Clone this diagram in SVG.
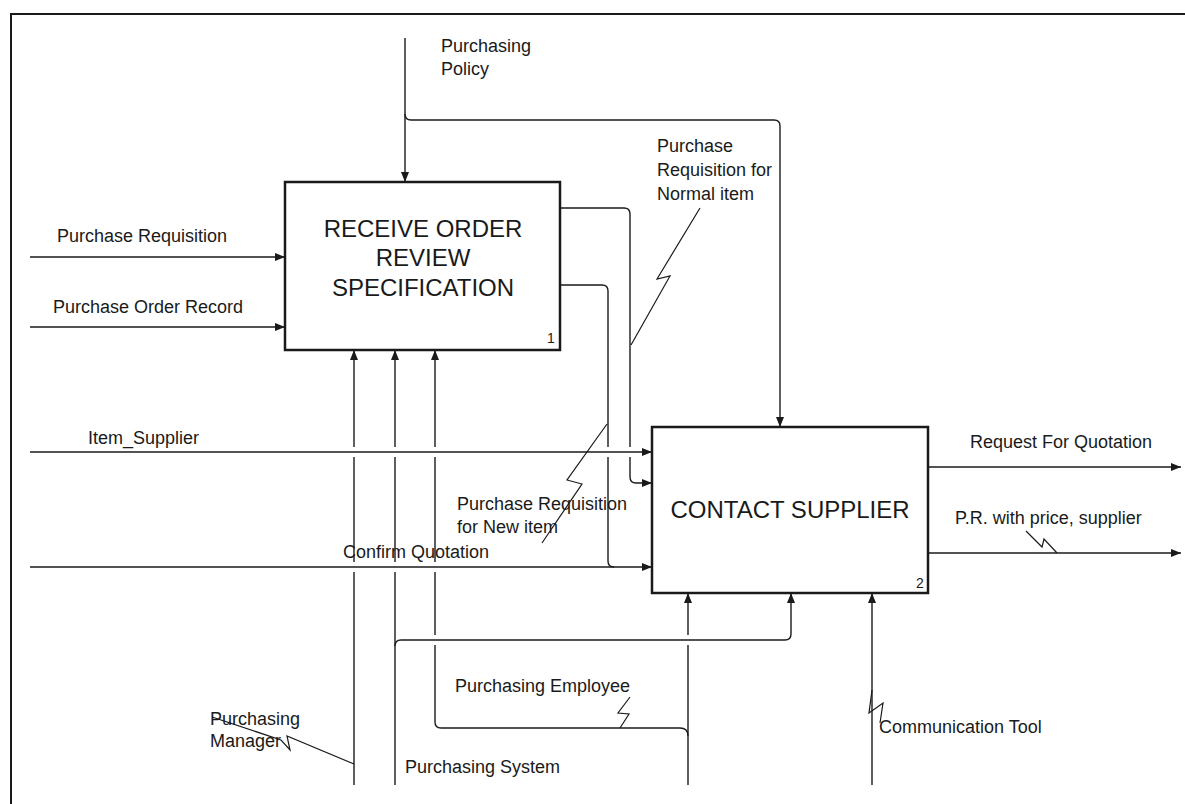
<svg xmlns="http://www.w3.org/2000/svg" width="1185" height="804" viewBox="0 0 1185 804">
<style>
text{font-family:"Liberation Sans",Arial,sans-serif;fill:#1a1a1a}
.lbl{font-size:18px}
.big{font-size:24px;text-anchor:middle}
.num{font-size:14px}
.box{fill:#fff;stroke:#1a1a1a;stroke-width:2.5}
.c{fill:none;stroke:#1a1a1a;stroke-width:1.4}
.a{fill:none;stroke:#1a1a1a;stroke-width:1.4;marker-end:url(#arr)}
.sq{fill:none;stroke:#1a1a1a;stroke-width:1.2}
.gap{stroke:#fff;stroke-width:4}
.frame{fill:none;stroke:#1a1a1a;stroke-width:2}
</style>
<defs>
<marker id="arr" viewBox="0 0 10 8" refX="10" refY="4" markerWidth="10" markerHeight="8" markerUnits="userSpaceOnUse" orient="auto">
<path d="M0,0 L10,4 L0,8 z" fill="#1a1a1a"/>
</marker>
</defs>
<rect width="1185" height="804" fill="#fff"/>
<path class="frame" d="M11,804 V14 H1185"/>

<g id="node1">
<rect class="box" x="285" y="182" width="275" height="168"/>
<text class="big" x="423" y="237">RECEIVE ORDER</text>
<text class="big" x="423" y="266">REVIEW</text>
<text class="big" x="423" y="296">SPECIFICATION</text>
<text class="num" x="547" y="343">1</text>
</g>

<g id="node2">
<rect class="box" x="652" y="427" width="276" height="166"/>
<text class="big" x="790" y="518">CONTACT SUPPLIER</text>
<text class="num" x="916" y="588">2</text>
</g>

<g id="connectors">
<path class="a" d="M405,38 V182"/>
<path class="a" d="M405,114 Q405,120 411,120 H774 Q780,120 780,126 V427"/>
<path class="a" d="M560,208 H624 Q630,208 630,214 V477 Q630,483 636,483 H652"/>
<path class="c" d="M560,285 H602 Q608,285 608,291 V561 Q608,567 614,567"/>
<path class="a" d="M354,785 V350"/>
<path class="a" d="M395,785 V350"/>
<path class="a" d="M688,785 V593"/>
<path class="a" d="M872,785 V593"/>
<path class="a" d="M688,736 Q688,728 680,728 H441 Q435,728 435,722 V350"/>
<path class="gap" d="M354,447 V457 M395,447 V457 M435,447 V457 M608,447 V457 M630,447 V457 M354,562 V572 M395,562 V572 M435,562 V572 M435,635 V645 M688,635 V645"/>
<path class="a" d="M30,257 H285"/>
<path class="a" d="M30,327 H285"/>
<path class="a" d="M30,452 H652"/>
<path class="a" d="M30,567 H652"/>
<path class="a" d="M395,646 Q395,640 401,640 H785 Q791,640 791,634 V593"/>
<path class="a" d="M928,467 H1181"/>
<path class="a" d="M928,553 H1181"/>
<path class="sq" d="M631,345 L670,276 L657,279 L700,208"/>
<path class="sq" d="M607,424 L567,480 L582,484 L542,543"/>
<path class="sq" d="M1057,553 L1044,539 L1042,547 L1026,531"/>
<path class="sq" d="M620,728 L629,714 L618,713 L630,697"/>
<path class="sq" d="M872,690 L869,713 L883,703 L880,723"/>
<path class="sq" d="M354,764 L287,736 L290,750 L281,740 L212,717"/>
</g>

<g id="labels">
<text class="lbl" x="441" y="52">Purchasing</text>
<text class="lbl" x="441" y="75">Policy</text>
<text class="lbl" x="57" y="242">Purchase Requisition</text>
<text class="lbl" x="53" y="313">Purchase Order Record</text>
<text class="lbl" x="657" y="152">Purchase</text>
<text class="lbl" x="657" y="176">Requisition for</text>
<text class="lbl" x="657" y="200">Normal item</text>
<text class="lbl" x="88" y="444">Item_Supplier</text>
<text class="lbl" x="457" y="510">Purchase Requisition</text>
<text class="lbl" x="457" y="533">for New item</text>
<text class="lbl" x="343" y="558">Confirm Quotation</text>
<text class="lbl" x="970" y="448">Request For Quotation</text>
<text class="lbl" x="955" y="524">P.R. with price, supplier</text>
<text class="lbl" x="455" y="692">Purchasing Employee</text>
<text class="lbl" x="210" y="725">Purchasing</text>
<text class="lbl" x="210" y="747">Manager</text>
<text class="lbl" x="405" y="773">Purchasing System</text>
<text class="lbl" x="879" y="733">Communication Tool</text>
</g>
</svg>
